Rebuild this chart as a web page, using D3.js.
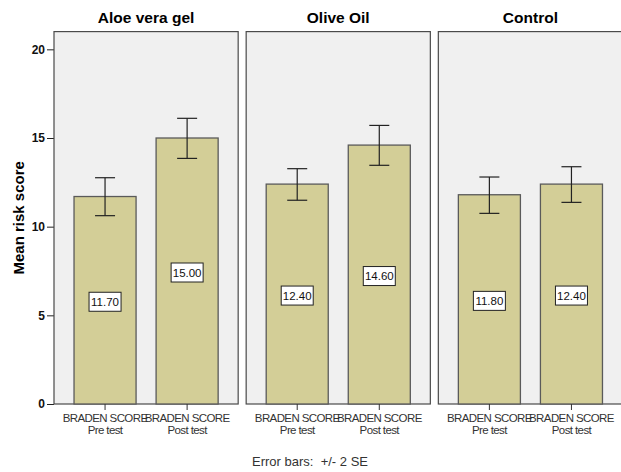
<!DOCTYPE html>
<html>
<head>
<meta charset="utf-8">
<script src="https://cdn.jsdelivr.net/npm/d3@7"></script>
<style>
  body { margin: 0; background: #fff; }
  svg { display: block; font-family: "Liberation Sans", Arial, sans-serif; }
</style>
</head>
<body>
<svg id="chart"></svg>
<script>
// data
var groups = ["Aloe vera gel", "Olive Oil", "Control"];
var tests = ["Pre test", "Post test"];
var means = [[11.70, 15.00], [12.40, 14.60], [11.80, 12.40]];
var lower = [[10.62, 13.85], [11.49, 13.46], [10.75, 11.37]];
var upper = [[12.76, 16.11], [13.27, 15.71], [12.80, 13.38]];
var yTicks = [0, 5, 10, 15, 20];

var svgWidth = 621, svgHeight = 472;

var svg = d3.select("#chart")
  .attr("width", svgWidth)
  .attr("height", svgHeight);

var y = d3.scaleLinear().domain([0, 21]).range([404, 31.6]);

var panelX = d3.scaleBand()
  .domain(groups)
  .range([54, 622.5])
  .paddingInner(0.0416);

var barX = d3.scaleBand()
  .domain(tests)
  .range([0, panelX.bandwidth()])
  .padding(0.244);

// y axis
var yAxis = svg.append("g")
  .attr("transform", "translate(" + panelX(groups[0]) + ",0)")
  .call(d3.axisLeft(y).tickValues(yTicks).tickSize(7).tickPadding(2));
yAxis.select(".domain").remove();
yAxis.selectAll("line").attr("stroke", "#222");
yAxis.selectAll("text")
  .attr("font-family", "Liberation Sans, Arial, sans-serif")
  .attr("font-size", 12)
  .attr("font-weight", "bold")
  .attr("fill", "#111");

svg.append("text")
  .attr("transform", "translate(24," + ((y(0) + y(21)) / 2) + ") rotate(-90)")
  .attr("text-anchor", "middle")
  .attr("font-size", 15)
  .attr("font-weight", "bold")
  .text("Mean risk score");

groups.forEach(function (grp, gi) {
  var g = svg.append("g")
    .attr("transform", "translate(" + panelX(grp) + ",0)");

  g.append("rect")
    .attr("x", 0)
    .attr("y", y(21))
    .attr("width", panelX.bandwidth())
    .attr("height", y(0) - y(21))
    .attr("fill", "#f0f0f0")
    .attr("stroke", "#4a4a4a")
    .attr("stroke-width", 1.2);

  g.append("text")
    .attr("x", panelX.bandwidth() / 2)
    .attr("y", 23)
    .attr("text-anchor", "middle")
    .attr("font-size", 15.5)
    .attr("font-weight", "bold")
    .text(grp);

  var data = tests.map(function (t, ti) {
    return { test: t, mean: means[gi][ti], lo: lower[gi][ti], hi: upper[gi][ti] };
  });

  g.selectAll(".bar")
    .data(data)
    .enter().append("rect")
    .attr("class", "bar")
    .attr("x", function (d) { return barX(d.test) })
    .attr("y", function (d) { return y(d.mean) })
    .attr("width", barX.bandwidth())
    .attr("height", function (d) { return y(0) - y(d.mean) })
    .attr("fill", "#d3ce97")
    .attr("stroke", "#5a5a5a")
    .attr("stroke-width", 1.3);

  // error bars
  var eb = g.selectAll(".err")
    .data(data)
    .enter().append("g")
    .attr("class", "err")
    .attr("stroke", "#222")
    .attr("stroke-width", 1.2);
  eb.append("line")
    .attr("x1", function (d) { return barX(d.test) + barX.bandwidth() / 2 })
    .attr("x2", function (d) { return barX(d.test) + barX.bandwidth() / 2 })
    .attr("y1", function (d) { return y(d.lo) })
    .attr("y2", function (d) { return y(d.hi) });
  eb.append("line")
    .attr("x1", function (d) { return barX(d.test) + barX.bandwidth() / 2 - 10 })
    .attr("x2", function (d) { return barX(d.test) + barX.bandwidth() / 2 + 10 })
    .attr("y1", function (d) { return y(d.hi) })
    .attr("y2", function (d) { return y(d.hi) });
  eb.append("line")
    .attr("x1", function (d) { return barX(d.test) + barX.bandwidth() / 2 - 10 })
    .attr("x2", function (d) { return barX(d.test) + barX.bandwidth() / 2 + 10 })
    .attr("y1", function (d) { return y(d.lo) })
    .attr("y2", function (d) { return y(d.lo) });

  // value labels
  var lab = g.selectAll(".lab")
    .data(data)
    .enter().append("g")
    .attr("class", "lab")
    .attr("transform", function (d) {
      return "translate(" + (barX(d.test) + barX.bandwidth() / 2) + "," + (y(d.mean / 2) + 1.5) + ")";
    });
  lab.append("rect")
    .attr("x", -16)
    .attr("y", -9.5)
    .attr("width", 32)
    .attr("height", 19)
    .attr("fill", "#fff")
    .attr("stroke", "#222")
    .attr("stroke-width", 1);
  lab.append("text")
    .attr("text-anchor", "middle")
    .attr("dy", "0.36em")
    .attr("font-size", 11.5)
    .attr("fill", "#111")
    .text(function (d) { return d.mean.toFixed(2) });

  // x axis
  var xa = g.append("g")
    .attr("transform", "translate(0," + y(0) + ")")
    .call(d3.axisBottom(barX).tickSize(6).tickFormat(""));
  xa.select(".domain").remove();
  xa.selectAll("line").attr("stroke", "#333");
  xa.selectAll(".tick").each(function (t) {
    var tx = d3.select(this).append("text")
      .attr("text-anchor", "middle")
      .attr("fill", "#333")
      .attr("font-size", 11.5)
      .attr("letter-spacing", "-0.6px");
    tx.append("tspan").attr("x", 0).attr("y", 18).text("BRADEN SCORE");
    tx.append("tspan").attr("x", 0).attr("y", 30).text(t);
  });
});

svg.append("text")
  .attr("x", 310)
  .attr("y", 466)
  .attr("text-anchor", "middle")
  .attr("font-size", 13)
  .attr("fill", "#333")
  .attr("xml:space", "preserve")
  .text("Error bars:  +/- 2 SE");
</script>
</body>
</html>
